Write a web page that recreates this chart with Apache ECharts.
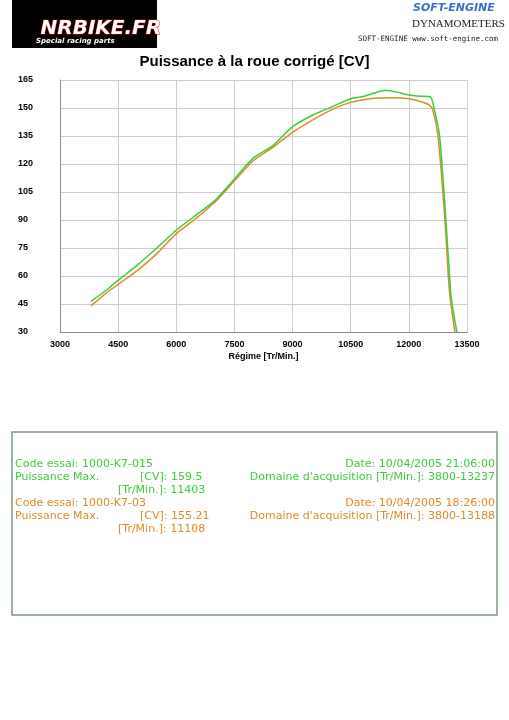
<!DOCTYPE html>
<html><head><meta charset="utf-8">
<script src="https://cdn.jsdelivr.net/npm/echarts@6/dist/echarts.min.js"></script>
<style>html,body{margin:0;padding:0;background:#fff}#c{width:509px;height:720px}</style>
</head><body><div id="c"></div>
<script>
const greenRpm = [3800,4200,4500,5000,5500,6000,6500,7000,7500,8000,8500,9000,9500,10000,10500,10800,11100,11400,11700,12000,12300,12550,12660,12790,12915,13000,13090,13170,13240];
const greenCv  = [46.4,52.5,57.7,66,75,84.5,92.5,100.5,112,123.4,130,140,146,150.5,155,156,158,159.5,158.5,157,156.3,156,149,135.5,102.5,75.7,49,38,30];
const orangeRpm = [3800,4200,4500,5000,5500,6000,6500,7000,7500,8000,8500,9000,9500,10000,10500,11108,11600,12000,12300,12530,12615,12745,12870,12960,13045,13120,13188];
const orangeCv  = [44,51,55.5,63,72,82.7,90.7,99.6,111,122,129,137,143.4,149,153,155.21,155.5,155,153.5,151.6,149,136,107,80.5,52,40,30];
const xTicks = [3000,4500,6000,7500,9000,10500,12000,13500];
const yTicks = [30,45,60,75,90,105,120,135,150,165];
const G='#3ccc3c', O='#e08a28';
const chart = echarts.init(document.getElementById('c'));
const txt = (x,y,t,c,align)=>({type:'text',left:align==='right'?undefined:x,right:align==='right'?x:undefined,top:y,style:{text:t,fill:c,font:'11px "DejaVu Sans"'}});
chart.setOption({
  animation:false,
  title:{text:'Puissance à la roue corrigé [CV]',left:'center',top:49,textStyle:{fontFamily:'Liberation Sans',fontSize:15,fontWeight:'bold',color:'#000'}},
  grid:{left:60,right:42,top:80,bottom:388},
  xAxis:{type:'value',min:3000,max:13500,interval:1500,name:'Régime [Tr/Min.]',nameLocation:'middle',nameGap:20,
    nameTextStyle:{fontFamily:'Liberation Sans',fontSize:9,fontWeight:'bold',color:'#000'},
    axisLine:{lineStyle:{color:'#888'}},axisTick:{show:false},
    axisLabel:{fontFamily:'Liberation Sans',fontSize:9,fontWeight:'bold',color:'#000',formatter:v=>String(v)},
    splitLine:{lineStyle:{color:'#ccc'}}},
  yAxis:{type:'value',min:30,max:165,interval:15,
    axisLine:{show:true,lineStyle:{color:'#888'}},axisTick:{show:false},
    axisLabel:{fontFamily:'Liberation Sans',fontSize:9,fontWeight:'bold',color:'#000',margin:42,align:'left'},
    splitLine:{lineStyle:{color:'#ccc'}}},
  series:[
    {type:'line',data:orangeRpm.map((r,i)=>[r,orangeCv[i]]),smooth:0.25,showSymbol:false,lineStyle:{color:O,width:1.5}},
    {type:'line',data:greenRpm.map((r,i)=>[r,greenCv[i]]),smooth:0.25,showSymbol:false,lineStyle:{color:G,width:1.5}}
  ],
  graphic:[
    {type:'rect',shape:{x:12,y:0,width:145,height:48},style:{fill:'#000'}},
    {type:'text',left:40,top:18,style:{text:'NRBIKE.FR',fill:'#fff',font:'italic bold 20px "DejaVu Sans"',stroke:'#d00',lineWidth:1}},
    {type:'text',left:36,top:38,style:{text:'Special racing parts',fill:'#fff',font:'italic bold 7px "DejaVu Sans"'}},
    {type:'text',left:413,top:3,style:{text:'SOFT-ENGINE',fill:'#3a6fd0',font:'italic bold 11px "DejaVu Sans"'}},
    {type:'text',left:412,top:19,style:{text:'DYNAMOMETERS',fill:'#222',font:'11px "Liberation Serif"'}},
    {type:'text',left:358,top:35,style:{text:'SOFT-ENGINE www.soft-engine.com',fill:'#222',font:'7.5px "DejaVu Sans Mono"'}},
    {type:'rect',shape:{x:12,y:432,width:485,height:183},style:{fill:'none',stroke:'#7a9a7a',lineWidth:1.5}},
    txt(15,459,'Code essai: 1000-K7-015',G), txt(14,459,'Date: 10/04/2005 21:06:00',G,'right'),
    txt(15,472,'Puissance Max.',G), txt(140,472,'[CV]: 159.5',G), txt(14,472,"Domaine d'acquisition [Tr/Min.]: 3800-13237",G,'right'),
    txt(118,485,'[Tr/Min.]: 11403',G),
    txt(15,498,'Code essai: 1000-K7-03',O), txt(14,498,'Date: 10/04/2005 18:26:00',O,'right'),
    txt(15,511,'Puissance Max.',O), txt(140,511,'[CV]: 155.21',O), txt(14,511,"Domaine d'acquisition [Tr/Min.]: 3800-13188",O,'right'),
    txt(118,524,'[Tr/Min.]: 11108',O)
  ]
});
</script></body></html>
